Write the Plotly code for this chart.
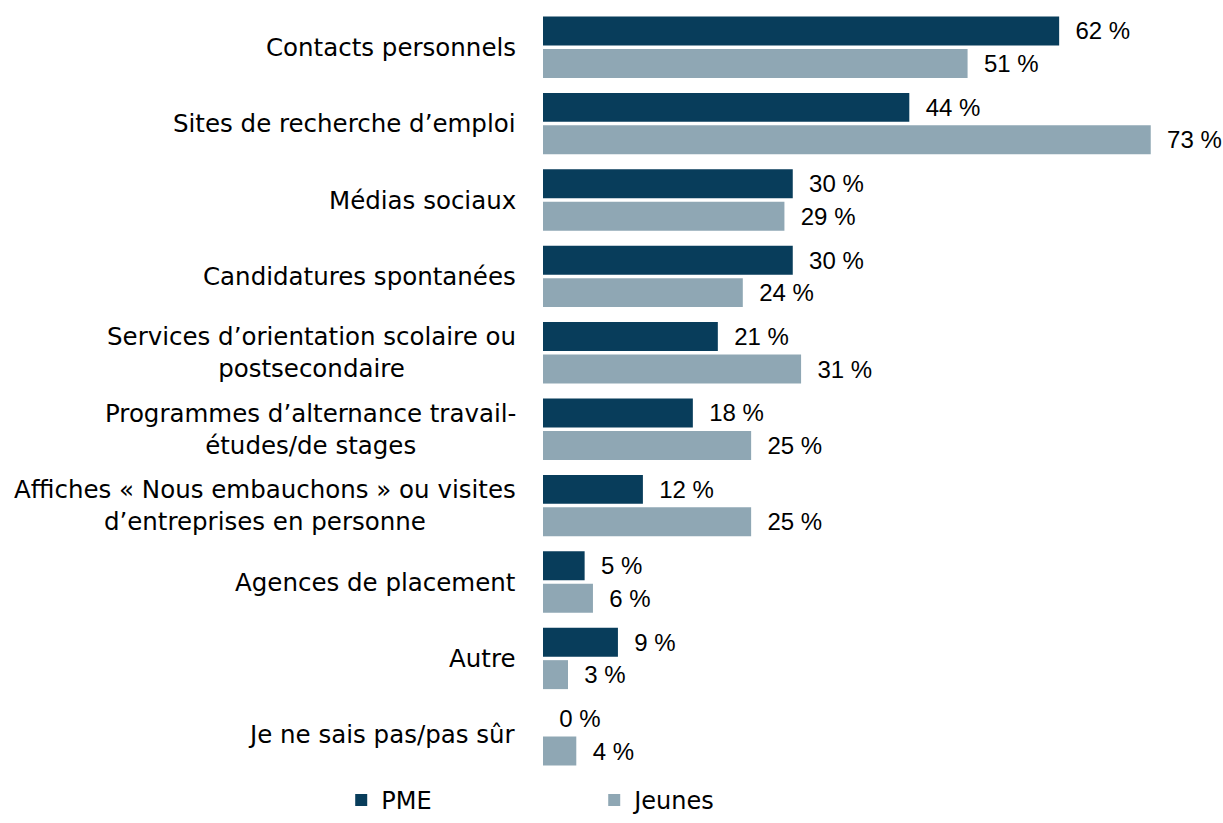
import plotly.graph_objects as go

categories = [
    "Contacts personnels",
    "Sites de recherche d’emploi",
    "Médias sociaux",
    "Candidatures spontanées",
    "Services d’orientation scolaire ou<br>postsecondaire",
    "Programmes d’alternance travail-<br>études/de stages",
    "Affiches « Nous embauchons » ou visites<br>d’entreprises en personne",
    "Agences de placement",
    "Autre",
    "Je ne sais pas/pas sûr",
]
pme = [62, 44, 30, 30, 21, 18, 12, 5, 9, 0]
jeunes = [51, 73, 29, 24, 31, 25, 25, 6, 3, 4]
series_names = ["PME", "Jeunes"]

FONT = "DejaVu Sans"
NUMFONT = "Liberation Sans"
DARK = "#083d5b"
LIGHT = "#8fa7b4"

fig = go.Figure()
for name, vals, col in [(series_names[0], pme, DARK), (series_names[1], jeunes, LIGHT)]:
    fig.add_trace(go.Bar(
        y=categories, x=vals, name=name, orientation="h",
        marker=dict(color=col, line=dict(width=0)),
        text=[f"\u00a0\u00a0{v}\u00a0%" for v in vals],
        textposition="outside", cliponaxis=False,
        textfont=dict(family=NUMFONT, size=24, color="#000000"),
    ))

for c in categories:
    fig.add_annotation(
        x=0, xref="paper", y=c, yref="y", text=c, showarrow=False,
        xanchor="right", xshift=-25, align="center",
        font=dict(family=FONT, size=24.5, color="#000000"),
    )

fig.update_layout(
    width=1223, height=823,
    margin=dict(l=543, r=0, t=9, b=50, autoexpand=False),
    barmode="group", bargap=0.15, bargroupgap=0.108,
    plot_bgcolor="white", paper_bgcolor="white",
    font=dict(family=FONT, size=24, color="#000000"),
    xaxis=dict(range=[0, 81.68], visible=False, showgrid=False, zeroline=False),
    yaxis=dict(autorange="reversed", showticklabels=False, showgrid=False,
               zeroline=False, showline=False, ticks=""),
    legend=dict(orientation="h", xref="container", yref="container",
                x=0.279, xanchor="left", y=0.0, yanchor="bottom",
                entrywidth=208, entrywidthmode="pixels",
                font=dict(family=FONT, size=24, color="#000000")),
    showlegend=True,
)
fig.write_html(
    "out.html",
    config={"displayModeBar": False},
    post_script="document.body.style.margin='0';document.body.style.overflow='hidden';",
)
